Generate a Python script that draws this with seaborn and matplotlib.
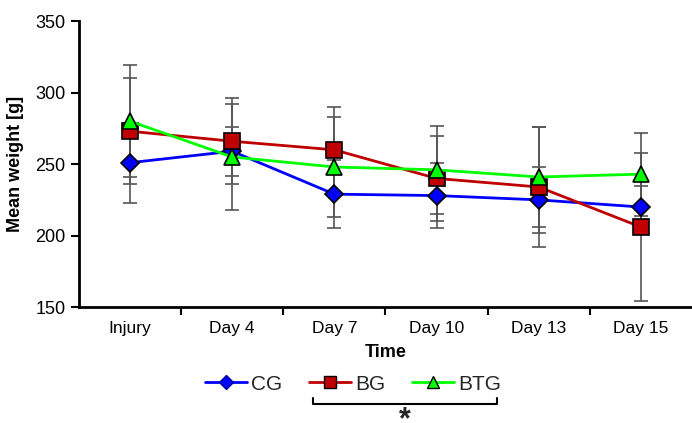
import matplotlib
matplotlib.use("Agg")
import matplotlib.pyplot as plt
from matplotlib.lines import Line2D
import seaborn as sns
import pandas as pd
import numpy as np

days = ["Injury", "Day 4", "Day 7", "Day 10", "Day 13", "Day 15"]
cg = [251, 259, 229, 228, 225, 220]
cg_sd = [28, 17, 24, 23, 23, 15]
bg = [273, 266, 260, 240, 234, 206]
bg_sd = [37, 30, 30, 30, 42, 52]
btg = [280, 255, 248, 246, 241, 243]
btg_sd = [39, 37, 35, 31, 35, 29]
groups = ["CG", "BG", "BTG"]

sns.set_theme(style="white")
plt.rcParams['font.family'] = ['Liberation Sans', 'DejaVu Sans']

colors = {"CG": "#0000FF", "BG": "#C00000", "BTG": "#00FF00"}
markers = {"CG": "D", "BG": "s", "BTG": "^"}
msizes = {"CG": 9, "BG": 11, "BTG": 11}

pos = list(range(len(days)))
df = pd.DataFrame({
    "pos": pos * 3,
    "weight": cg + bg + btg,
    "sd": cg_sd + bg_sd + btg_sd,
    "group": [g for g in groups for _ in days],
})

fig = plt.figure(figsize=(6.92, 4.23), dpi=100)
ax = fig.add_axes([0.114, 0.274, 0.886, 0.676])

for g in groups:
    sub = df[df.group == g]
    ax.errorbar(sub.pos, sub.weight, yerr=sub.sd, fmt="none", ecolor="#555555",
                elinewidth=1.2, capsize=5, capthick=1.2, zorder=1)

for g in groups:
    sub = df[df.group == g]
    sns.lineplot(data=sub, x="pos", y="weight", color=colors[g], lw=2,
                 marker=markers[g], markersize=msizes[g], markerfacecolor=colors[g],
                 markeredgecolor="black", markeredgewidth=1.2, ax=ax, zorder=3,
                 legend=False)

ax.set_xlim(-0.5, len(days) - 0.5)
ax.set_ylim(150, 350)
ax.set_yticks([150, 200, 250, 300, 350])
ax.set_xticks([p + 0.5 for p in pos[:-1]])
ax.set_xticklabels([])
ax.set_xticks(pos, minor=True)
ax.set_xticklabels(days, minor=True)
ax.tick_params(axis="x", which="major", direction="out", length=6, width=1.5, color="black", bottom=True)
ax.tick_params(axis="x", which="minor", length=0, labelsize=12.5, pad=10, labelcolor="black")
ax.tick_params(axis="y", direction="out", length=6, width=1.5, color="black", left=True, labelsize=13, labelcolor="black")

for s in ["top", "right"]:
    ax.spines[s].set_visible(False)
for s in ["left", "bottom"]:
    ax.spines[s].set_color("black")
    ax.spines[s].set_linewidth(2)

ax.set_xlabel("Time", fontsize=13, fontweight="bold", labelpad=6, color="black")
ax.set_ylabel("Mean weight [g]", fontsize=13, fontweight="bold", labelpad=8, color="black")

handles = [Line2D([0], [0], color=colors[g], lw=2, marker=markers[g],
                  markersize=msizes[g] * 0.8, markerfacecolor=colors[g],
                  markeredgecolor="black" if g != "CG" else "#0000A0", markeredgewidth=1)
           for g in groups]
fig.legend(handles, groups, loc="center", bbox_to_anchor=(0.51, 0.092), ncol=3,
           frameon=False, fontsize=15, handlelength=2.0, columnspacing=1.3, handletextpad=0.2)

# significance bracket under BG and BTG
y0, y1 = 1 - 404 / 423, 1 - 398 / 423
x0, x1 = 313 / 692, 497 / 692
fig.add_artist(Line2D([x0, x0, x1, x1], [y1, y0, y0, y1], color="black", lw=1.5,
                      transform=fig.transFigure))
fig.text((x0 + x1) / 2, 1 - 420 / 423, "*", ha="center", va="center", fontsize=22, fontweight="bold")

fig.savefig("out.png", dpi=100)
